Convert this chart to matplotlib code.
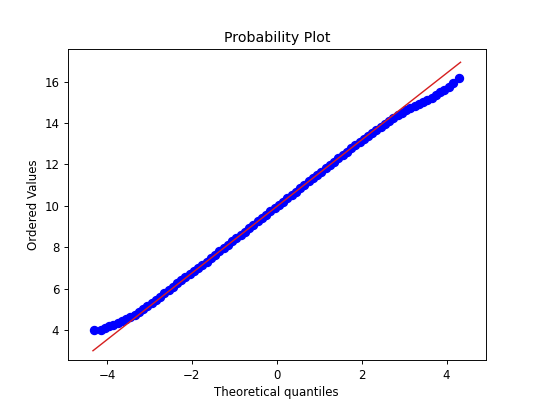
import matplotlib
matplotlib.use("Agg")
import matplotlib.pyplot as plt

# theoretical quantiles and ordered values
quantiles = [-4.3, -4.15, -4.05, -3.95, -3.85, -3.75, -3.65, -3.55, -3.45, -3.35,
             -3.25, -3.15, -3.05, -2.95, -2.85, -2.75, -2.65, -2.55, -2.45, -2.35,
             -2.25, -2.15, -2.05, -1.95, -1.85, -1.75, -1.65, -1.55, -1.45, -1.35,
             -1.25, -1.15, -1.05, -0.95, -0.85, -0.75, -0.65, -0.55, -0.45, -0.35,
             -0.25, -0.15, -0.05, 0.05, 0.15, 0.25, 0.35, 0.45, 0.55, 0.65,
             0.75, 0.85, 0.95, 1.05, 1.15, 1.25, 1.35, 1.45, 1.55, 1.65,
             1.75, 1.85, 1.95, 2.05, 2.15, 2.25, 2.35, 2.45, 2.55, 2.65,
             2.75, 2.85, 2.95, 3.05, 3.15, 3.25, 3.35, 3.45, 3.55, 3.65,
             3.75, 3.85, 3.95, 4.05, 4.15, 4.3]
ordered = [3.98, 4.0, 4.1, 4.18, 4.25, 4.33, 4.42, 4.52, 4.63, 4.75,
           4.88, 5.02, 5.16, 5.31, 5.46, 5.61, 5.77, 5.93, 6.09, 6.25,
           6.41, 6.57, 6.73, 6.83, 6.99, 7.15, 7.31, 7.47, 7.64, 7.80,
           7.96, 8.12, 8.28, 8.44, 8.60, 8.76, 8.92, 9.08, 9.25, 9.41,
           9.57, 9.73, 9.89, 10.05, 10.21, 10.37, 10.53, 10.69, 10.86, 11.02,
           11.18, 11.34, 11.50, 11.66, 11.82, 11.98, 12.14, 12.30, 12.46, 12.62,
           12.78, 12.93, 13.09, 13.24, 13.39, 13.54, 13.69, 13.83, 13.97, 14.11,
           14.24, 14.37, 14.49, 14.61, 14.72, 14.83, 14.93, 15.03, 15.12, 15.21,
           15.35, 15.5, 15.62, 15.75, 15.95, 16.2]
fit_x = [-4.33, 4.33]
fit_y = [3.0, 16.94]

fig = plt.figure(figsize=(6.4, 4.8), dpi=84.375)
ax = fig.add_subplot(111)
ax.plot(quantiles, ordered, 'o', color='blue', markersize=7)
ax.plot(fit_x, fit_y, '-', color='#d62020', linewidth=1.2)
ax.set_xlim(-4.93, 4.93)
ax.set_ylim(2.53, 17.6)
ax.set_xticks([-4, -2, 0, 2, 4])
ax.set_yticks([4, 6, 8, 10, 12, 14, 16])
ax.set_xlabel('Theoretical quantiles')
ax.set_ylabel('Ordered Values')
ax.set_title('Probability Plot')
fig.savefig("out.png", dpi=84.375)
